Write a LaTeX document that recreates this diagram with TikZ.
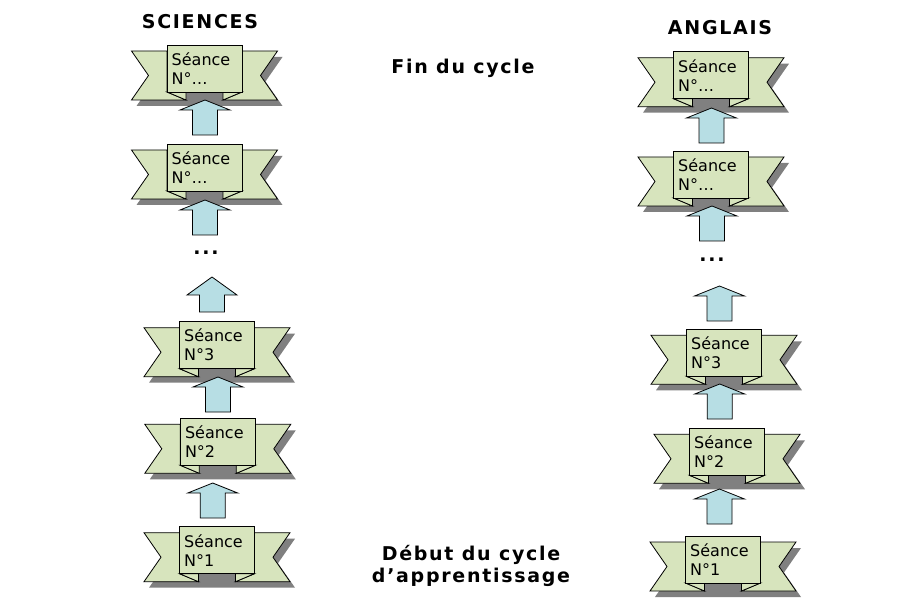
\documentclass[tikz,border=0pt]{standalone}
\usepackage{fontspec}
\setmainfont{DejaVu Sans}
\newfontfamily\headfont[LetterSpace=9]{DejaVu Sans}

\definecolor{ribbongreen}{RGB}{215,228,189}
\definecolor{arrowblue}{RGB}{183,222,228}
\definecolor{shadowgray}{RGB}{128,128,128}

\tikzset{
  ribbonfill/.style={fill=ribbongreen,draw=black,line width=0.8pt,line join=miter},
  arrowfill/.style={fill=arrowblue,draw=black,line width=0.8pt,line join=miter},
  ribtext/.style={font=\fontsize{16}{19}\selectfont,align=left,inner sep=0pt,anchor=west},
  headtext/.style={font=\fontsize{19}{21.5}\selectfont\headfont\bfseries,inner sep=0pt,anchor=base},
  % banner: origin at the top centre of the middle panel
  pics/ribbon/.style={code={
    \fill[shadowgray] (-68,12) -- (-51,36.5) -- (-68,61) -- (78,61) -- (61,36.5) -- (78,12) -- cycle;
    \filldraw[ribbonfill] (-37.5,6) -- (-73,6) -- (-56,30.5) -- (-73,55) -- (-18.5,55) -- (-37.5,47) -- cycle;
    \filldraw[ribbonfill] (37.5,6) -- (73,6) -- (56,30.5) -- (73,55) -- (18.5,55) -- (37.5,47) -- cycle;
    \filldraw[ribbonfill] (-37.5,47) -- (-18.5,55) -- (-18.5,47) -- cycle;
    \filldraw[ribbonfill] (37.5,47) -- (18.5,55) -- (18.5,47) -- cycle;
    \filldraw[ribbonfill] (-37.5,0) rectangle (37.5,47);
    \node[ribtext] (-txt) at (-33,23.5) {Séance\\N°#1};
  }},
  % block arrow: origin at the tip, #1 = height of the head
  pics/uparrow/.style={code={
    \filldraw[arrowfill] (0,0) -- (25,#1) -- (12.5,#1) -- (12.5,35) -- (-12.5,35) -- (-12.5,#1) -- (-25,#1) -- cycle;
  }},
  pics/uparrow/.default=10
}

\begin{document}
\begin{tikzpicture}[x=1pt,y=-1pt]
\useasboundingbox (0,0) rectangle (918,609);

% banners
\foreach \nm/\x/\y/\num in {l1/204.5/45/…, l2/204.5/144/…, l3/217/321.7/3, l4/217.8/418.3/2, l5/217/526.7/1,
  r1/711/51.7/…, r2/711/151/…, r3/724/329.3/3, r4/727/428.3/2, r5/723/536/1}
  \pic (\nm) at (\x,\y) {ribbon=\num};

% arrows between the banners
\foreach \x/\y/\h in {205/100/10, 205/200/10, 212/277/18, 218/377/10, 212.7/483/10,
  711.5/108/10, 712/206/10, 719.5/286/10, 719.7/384/10, 719.5/489/10}
  \pic at (\x,\y) {uparrow=\h};

% labels
\node[headtext] (sciences) at (200,29) {SCIENCES};
\node[headtext] (anglais) at (720,35) {ANGLAIS};
\node[headtext] (fin) at (463,74) {Fin du cycle};
\node[headtext,align=center,anchor=north] (debut) at (471,545.5) {Début du cycle\\d’apprentissage};
\node[headtext] (ldots) at (206,255) {...};
\node[headtext] (rdots) at (712,262) {...};
\end{tikzpicture}
\end{document}
